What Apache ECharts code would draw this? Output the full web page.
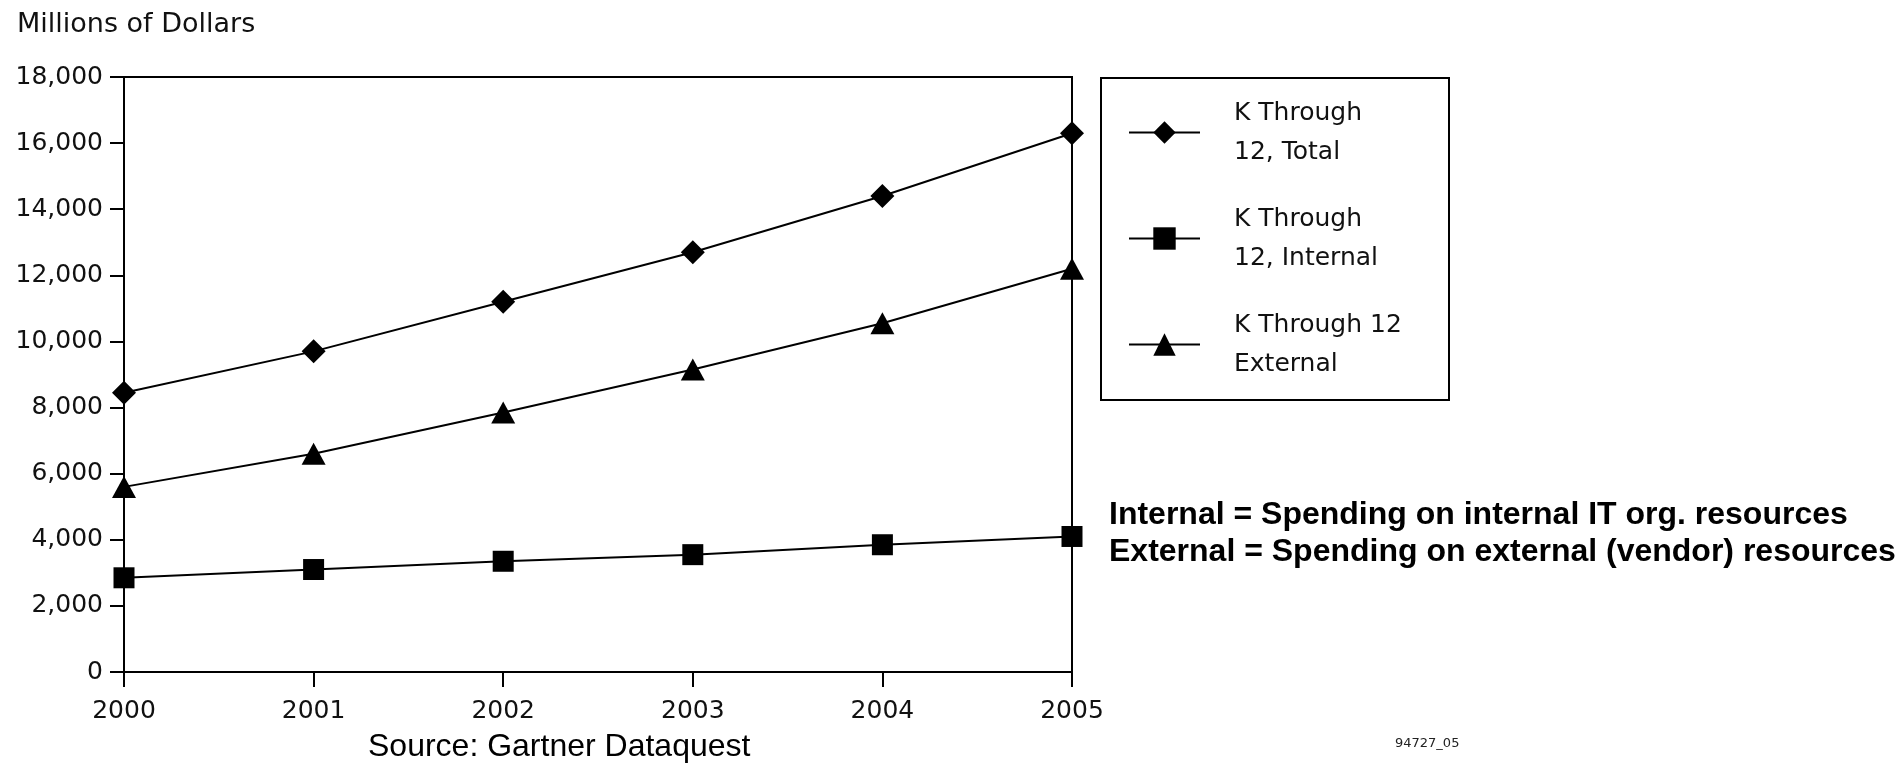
<!DOCTYPE html>
<html>
<head>
<meta charset="utf-8">
<title>K Through 12 IT Spending</title>
<script src="https://cdn.jsdelivr.net/npm/echarts@6/dist/echarts.min.js"></script>
<style>
  html, body { margin: 0; padding: 0; background: #fff; }
  #chart { width: 1903px; height: 764px; }
</style>
</head>
<body>
<div id="chart"></div>
<script>
// Spending in millions of dollars, 2000-2005
const years = ['2000', '2001', '2002', '2003', '2004', '2005'];
const totalSpend    = [8450, 9700, 11200, 12700, 14400, 16300];
const internalSpend = [2850, 3100, 3350, 3550, 3850, 4100];
const externalSpend = [5600, 6600, 7850, 9150, 10550, 12200];
const seriesNames = ['K Through\n12, Total', 'K Through\n12, Internal', 'K Through 12\nExternal'];
const yMin = 0, yMax = 18000, yStep = 2000;

const axisFont = 'DejaVu Sans, sans-serif';
const black = '#000';

function lineSeries(name, values, symbol, size) {
  return {
    name: name,
    type: 'line',
    data: values,
    symbol: symbol,
    symbolSize: size,
    showSymbol: true,
    lineStyle: { color: black, width: 2 },
    itemStyle: { color: black },
    emphasis: { disabled: true },
    animation: false,
    z: 3
  };
}

const chart = echarts.init(document.getElementById('chart'), null, { renderer: 'canvas' });
chart.setOption({
  backgroundColor: '#fff',
  animation: false,
  grid: {
    left: 124, top: 77, right: 831, bottom: 92,
    show: true, borderColor: black, borderWidth: 2,
    containLabel: false
  },
  xAxis: {
    type: 'category',
    data: years,
    boundaryGap: false,
    axisLine: { lineStyle: { color: black, width: 2 } },
    axisTick: { show: true, inside: false, length: 15, lineStyle: { color: black, width: 2 } },
    axisLabel: { color: '#111', fontFamily: axisFont, fontSize: 25, margin: 27 },
    splitLine: { show: false }
  },
  yAxis: {
    type: 'value',
    min: yMin, max: yMax, interval: yStep,
    axisLine: { show: true, lineStyle: { color: black, width: 2 } },
    axisTick: { show: true, inside: false, length: 14, lineStyle: { color: black, width: 2 } },
    axisLabel: {
      color: '#111', fontFamily: axisFont, fontSize: 25, margin: 21,
      formatter: v => v.toLocaleString('en-US')
    },
    splitLine: { show: false }
  },
  legend: {
    orient: 'vertical',
    left: 1128, top: 90,
    padding: 0,
    itemWidth: 71, itemHeight: 28, itemGap: 21,
    selectedMode: false,
    textStyle: {
      color: '#111', fontFamily: axisFont, fontSize: 25, lineHeight: 39,
      padding: [7, 0, 0, 29]
    },
    data: seriesNames
  },
  series: [
    lineSeries(seriesNames[0], totalSpend, 'diamond', 24),
    lineSeries(seriesNames[1], internalSpend, 'rect', 21),
    lineSeries(seriesNames[2], externalSpend, 'triangle', [24, 22])
  ],
  graphic: [
    { type: 'text', x: 17, y: 25,
      style: { text: 'Millions of Dollars', fill: '#111', font: '27px DejaVu Sans', verticalAlign: 'middle' } },
    { type: 'rect', shape: { x: 1101, y: 78, width: 348, height: 322 },
      style: { fill: 'none', stroke: black, lineWidth: 2 } },
    { type: 'text', x: 1109, y: 515,
      style: { text: 'Internal = Spending on internal IT org. resources', fill: black,
               font: 'bold 32px Liberation Sans, Arial, sans-serif', verticalAlign: 'middle' } },
    { type: 'text', x: 1109, y: 552,
      style: { text: 'External = Spending on external (vendor) resources', fill: black,
               font: 'bold 32px Liberation Sans, Arial, sans-serif', verticalAlign: 'middle' } },
    { type: 'text', x: 368, y: 747,
      style: { text: 'Source: Gartner Dataquest', fill: black,
               font: '32px Liberation Sans, Arial, sans-serif', verticalAlign: 'middle' } },
    { type: 'text', x: 1395, y: 744,
      style: { text: '94727_05', fill: '#222',
               font: '13px DejaVu Sans', verticalAlign: 'middle' } }
  ]
});
</script>
</body>
</html>
